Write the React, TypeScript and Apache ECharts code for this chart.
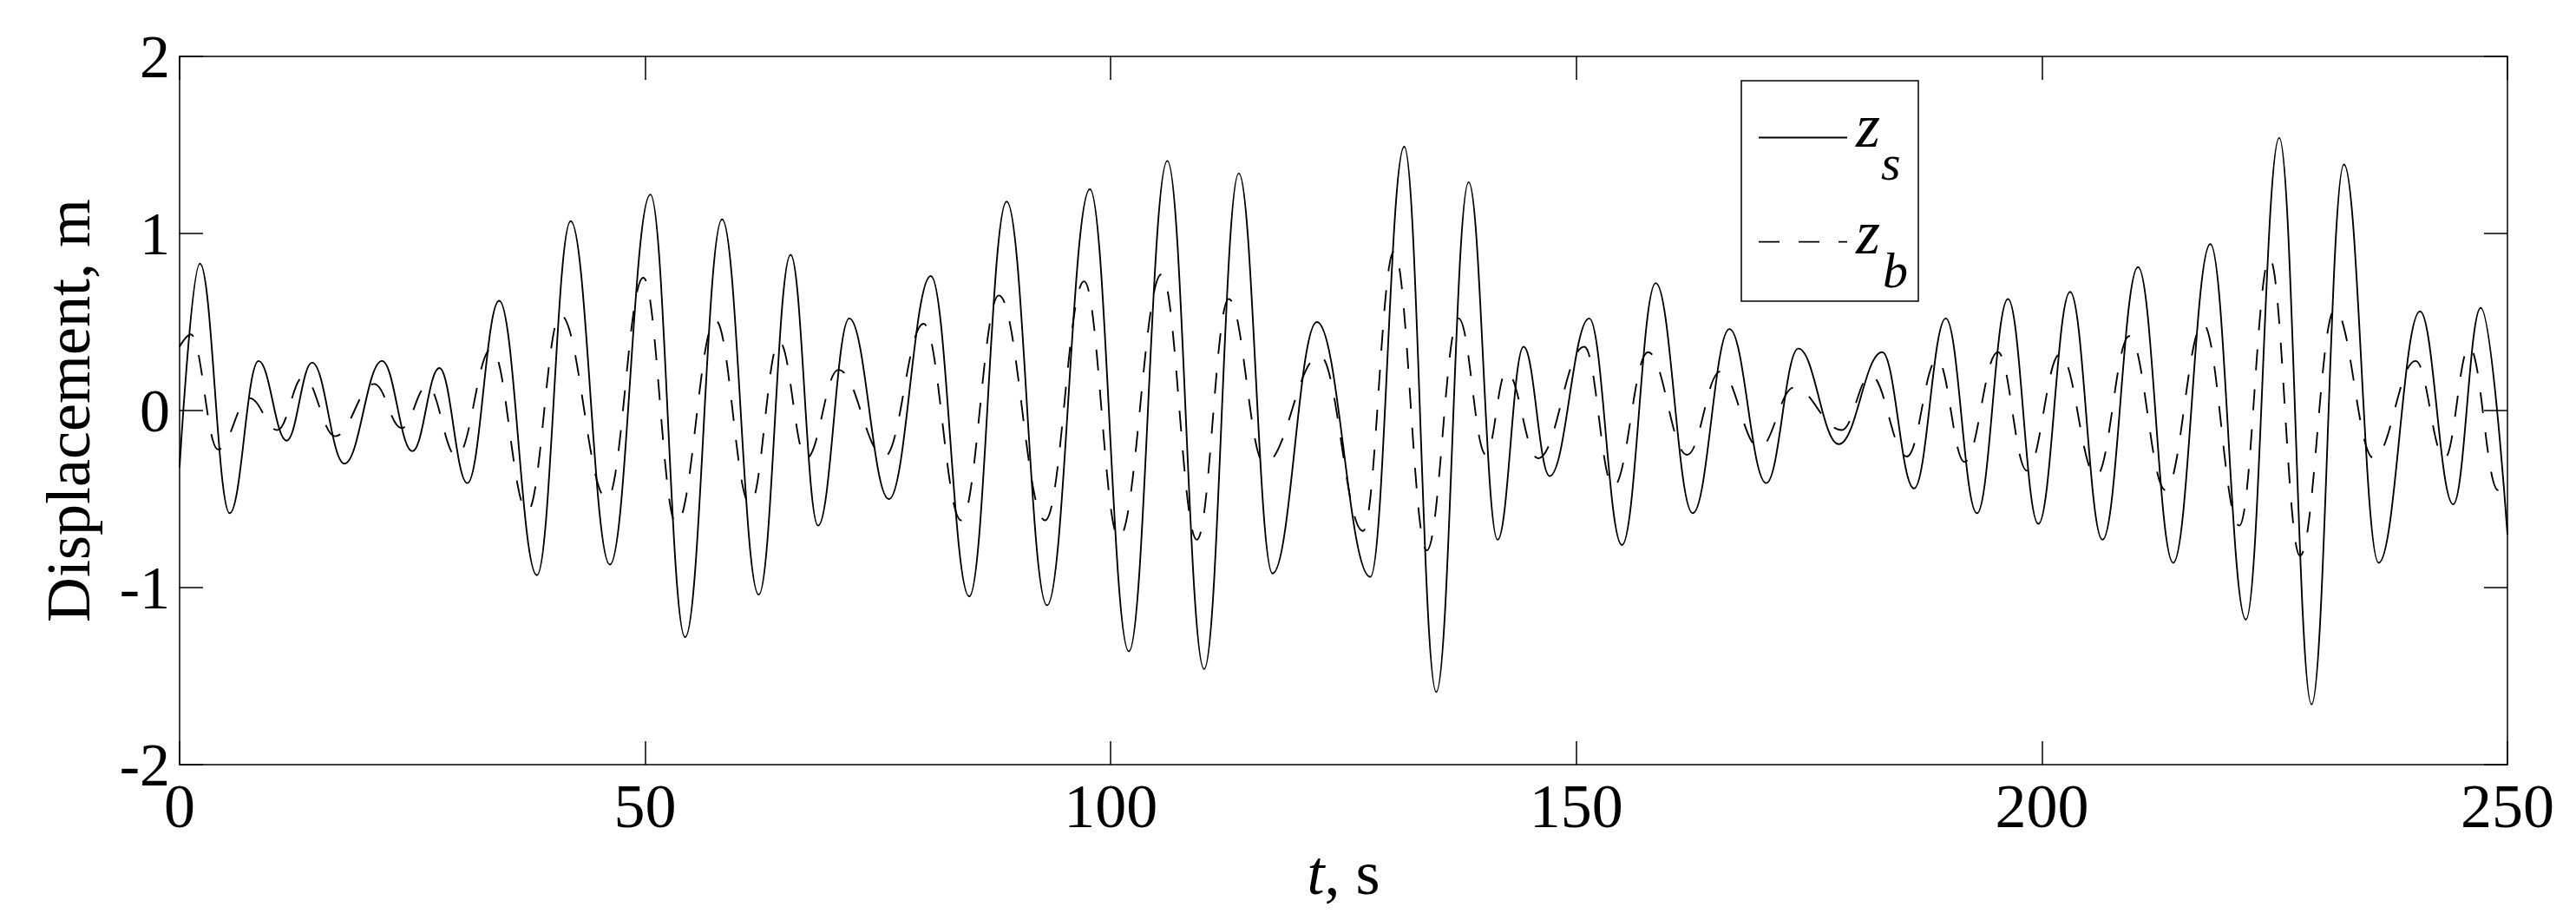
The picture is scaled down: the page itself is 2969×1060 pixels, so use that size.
import React, { useEffect, useRef } from "react";
import * as echarts from "echarts";

// Extremum points (t in s, displacement in m)
const zsTime = [0, 2.18, 5.38, 8.48, 11.49, 14.23, 17.7, 21.74, 25.0, 27.9, 30.9, 34.32, 38.38, 42.0, 46.21, 50.56, 54.29, 58.26, 62.2, 65.62, 68.57, 71.92, 76.18, 80.68, 84.8, 88.82, 93.16, 97.76, 101.95, 106.08, 110.03, 113.75, 117.38, 122.14, 127.88, 131.52, 134.96, 138.44, 141.55, 144.34, 147.14, 151.39, 154.9, 158.53, 162.51, 166.45, 170.4, 173.84, 178.19, 182.85, 186.27, 189.68, 193.03, 196.36, 199.62, 203.03, 206.51, 210.33, 214.1, 218.09, 221.91, 225.49, 228.96, 232.44, 236.17, 240.61, 244.18, 247.13, 250];
const zsValue = [-0.32, 0.83, -0.58, 0.28, -0.17, 0.27, -0.3, 0.28, -0.23, 0.24, -0.41, 0.62, -0.93, 1.07, -0.87, 1.22, -1.28, 1.08, -1.04, 0.88, -0.65, 0.52, -0.5, 0.76, -1.05, 1.18, -1.1, 1.25, -1.36, 1.41, -1.46, 1.34, -0.92, 0.5, -0.94, 1.49, -1.59, 1.29, -0.73, 0.36, -0.37, 0.52, -0.76, 0.72, -0.58, 0.46, -0.41, 0.35, -0.19, 0.33, -0.44, 0.52, -0.58, 0.63, -0.64, 0.67, -0.73, 0.81, -0.86, 0.94, -1.18, 1.54, -1.66, 1.39, -0.86, 0.56, -0.53, 0.58, -0.7];

const zbTime = [0, 1.2, 4.13, 7.5, 10.5, 13.3, 16.7, 20.9, 23.85, 26.6, 29.75, 33.5, 37.36, 40.9, 45.9, 49.8, 53.35, 57.55, 61.27, 64.4, 67.3, 70.75, 75.7, 79.9, 83.94, 87.98, 92.95, 97.14, 100.87, 105.46, 109.25, 112.67, 116.5, 122.45, 127.1, 130.43, 133.94, 137.35, 140.3, 142.48, 145.9, 150.86, 153.97, 157.7, 161.9, 165.46, 169.65, 173.37, 178.5, 181.6, 185.5, 188.75, 191.7, 195.27, 198.4, 201.95, 205.83, 209.4, 213.28, 217.3, 221.2, 224.46, 227.72, 231.45, 235.64, 240.14, 243.25, 245.9, 249.0, 250];
const zbValue = [0.36, 0.43, -0.22, 0.07, -0.11, 0.19, -0.145, 0.15, -0.1, 0.14, -0.26, 0.35, -0.57, 0.54, -0.5, 0.75, -0.64, 0.51, -0.53, 0.39, -0.27, 0.23, -0.26, 0.49, -0.62, 0.65, -0.62, 0.73, -0.72, 0.77, -0.73, 0.63, -0.3, 0.31, -0.68, 0.9, -0.79, 0.52, -0.25, 0.22, -0.27, 0.36, -0.43, 0.33, -0.25, 0.22, -0.21, 0.13, -0.11, 0.2, -0.26, 0.29, -0.29, 0.33, -0.34, 0.32, -0.37, 0.42, -0.45, 0.49, -0.65, 0.86, -0.82, 0.57, -0.27, 0.28, -0.27, 0.36, -0.45, -0.36];

const xTicks = [0, 50, 100, 150, 200, 250];
const yTicks = [-2, -1, 0, 1, 2];

const SERIF = '"Liberation Serif", "Times New Roman", Times, serif';

export default function App() {
  const ref = useRef<HTMLDivElement>(null);

  useEffect(() => {
    const chart = echarts.init(ref.current as HTMLDivElement, null, { renderer: "svg" });
    const zs = zsTime.map((t, i) => [t, zsValue[i]]);
    const zb = zbTime.map((t, i) => [t, zbValue[i]]);

    const frame = { color: "#000", width: 1.5 };
    const tick = { show: true, inside: true, length: 27, lineStyle: { color: "#000", width: 1.5 } };
    const xRange = { min: xTicks[0], max: xTicks[xTicks.length - 1], interval: xTicks[1] - xTicks[0] };
    const yRange = { min: yTicks[0], max: yTicks[yTicks.length - 1], interval: yTicks[1] - yTicks[0] };

    chart.setOption({
      animation: false,
      backgroundColor: "#fff",
      grid: { left: 207, top: 65, width: 2683, height: 816, containLabel: false },
      xAxis: [
        {
          type: "value",
          position: "bottom",
          ...xRange,
          axisLine: { show: true, onZero: false, lineStyle: frame },
          axisTick: tick,
          splitLine: { show: false },
          axisLabel: { show: true, margin: 12, color: "#000", fontFamily: SERIF, fontSize: 72 },
          name: "{i|t}, s",
          nameLocation: "middle",
          nameGap: 87,
          nameTextStyle: {
            color: "#000",
            fontFamily: SERIF,
            fontSize: 72,
            rich: { i: { fontStyle: "italic", fontFamily: SERIF, fontSize: 72, color: "#000" } },
          },
        },
        {
          type: "value",
          position: "top",
          ...xRange,
          axisLine: { show: true, onZero: false, lineStyle: frame },
          axisTick: tick,
          splitLine: { show: false },
          axisLabel: { show: false },
        },
      ],
      yAxis: [
        {
          type: "value",
          position: "left",
          ...yRange,
          axisLine: { show: true, onZero: false, lineStyle: frame },
          axisTick: tick,
          splitLine: { show: false },
          axisLabel: { show: true, margin: 11, color: "#000", fontFamily: SERIF, fontSize: 70 },
          name: "Displacement, m",
          nameLocation: "middle",
          nameRotate: 90,
          nameGap: 92,
          nameTextStyle: { color: "#000", fontFamily: SERIF, fontSize: 72 },
        },
        {
          type: "value",
          position: "right",
          ...yRange,
          axisLine: { show: true, onZero: false, lineStyle: frame },
          axisTick: tick,
          splitLine: { show: false },
          axisLabel: { show: false },
        },
      ],
      series: [
        {
          name: "zs",
          type: "line",
          data: zs,
          smooth: 0.4,
          smoothMonotone: "x",
          symbol: "none",
          showSymbol: false,
          lineStyle: { color: "#000", width: 1.9, type: "solid" },
          z: 3,
        },
        {
          name: "zb",
          type: "line",
          data: zb,
          smooth: 0.4,
          smoothMonotone: "x",
          symbol: "none",
          showSymbol: false,
          lineStyle: { color: "#000", width: 1.9, type: [24, 22] },
          z: 2,
        },
      ],
      graphic: [
        {
          type: "group",
          z: 100,
          children: [
            {
              type: "rect",
              shape: { x: 2007, y: 93, width: 204, height: 254 },
              style: { fill: "#fff", stroke: "#000", lineWidth: 1.5 },
            },
            {
              type: "line",
              shape: { x1: 2027, y1: 158.5, x2: 2129, y2: 158.5 },
              style: { stroke: "#000", lineWidth: 1.9 },
            },
            {
              type: "line",
              shape: { x1: 2027, y1: 278.6, x2: 2129, y2: 278.6 },
              style: { stroke: "#000", lineWidth: 1.9, lineDash: [24, 22] },
            },
            {
              type: "text",
              style: { text: "z", x: 2139, y: 144.7, font: `italic 72px ${SERIF}`, fill: "#000", textAlign: "left", textVerticalAlign: "middle" },
            },
            {
              type: "text",
              style: { text: "s", x: 2168, y: 187.4, font: `italic 58px ${SERIF}`, fill: "#000", textAlign: "left", textVerticalAlign: "middle" },
            },
            {
              type: "text",
              style: { text: "z", x: 2139, y: 268, font: `italic 72px ${SERIF}`, fill: "#000", textAlign: "left", textVerticalAlign: "middle" },
            },
            {
              type: "text",
              style: { text: "b", x: 2170, y: 311, font: `italic 58px ${SERIF}`, fill: "#000", textAlign: "left", textVerticalAlign: "middle" },
            },
          ],
        },
      ],
    });

    return () => chart.dispose();
  }, []);

  return (
    <div
      ref={ref}
      style={{ position: "absolute", left: 0, top: 0, width: 2969, height: 1060, background: "#fff" }}
    />
  );
}
